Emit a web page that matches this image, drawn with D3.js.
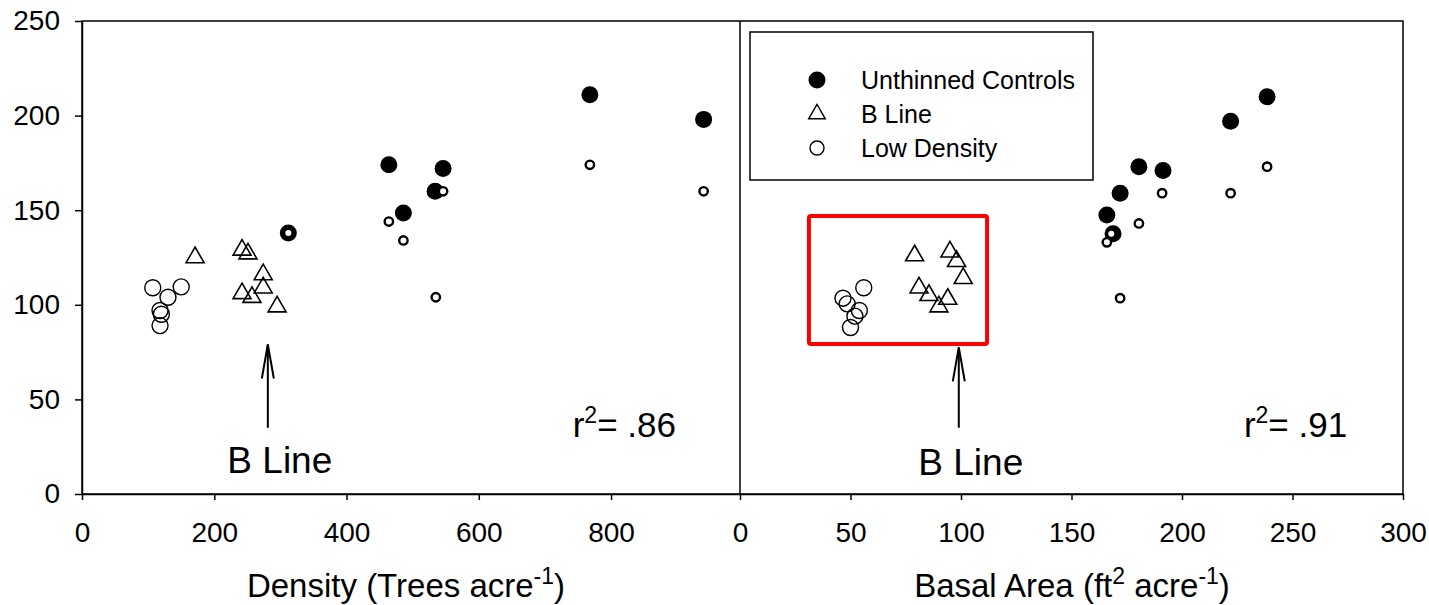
<!DOCTYPE html>
<html>
<head>
<meta charset="utf-8">
<script src="https://cdn.jsdelivr.net/npm/d3@7"></script>
<style>
  body { margin: 0; background: #fff; }
  text { font-family: "Liberation Sans", Arial, sans-serif; fill: #000; }
</style>
</head>
<body>
<div class="visualization-container"></div>
<script>
// left panel: density (trees/acre) vs y
const unthinnedDensity = [[312, 138], [464, 174], [546, 172], [534, 160], [486, 148.5], [768, 211], [940, 198]];
const smallOpenDensity = [[312, 138], [464, 144], [486, 134], [546, 160], [535, 104], [768, 174], [940, 160]];
const bLineDensity = [[171, 125], [242, 129], [251, 127], [274, 116], [274, 109], [242, 106], [257, 104], [295, 99]];
const lowDensityDensity = [[107, 109], [150, 109.5], [130, 104], [118, 97], [120, 95], [118, 89]];

// right panel: basal area (ft2/acre) vs y
const unthinnedBasal = [[180.5, 173], [191.4, 171], [172, 159], [166, 147.5], [168.8, 137.5], [222, 197], [238.5, 210]];
const smallOpenBasal = [[191, 159], [180.5, 143], [168, 137.5], [166, 133], [172, 103.5], [222, 159], [238.5, 173]];
const bLineBasal = [[79, 126], [95, 128], [98, 123], [101, 114], [81, 109], [85.5, 105], [94, 103], [90, 99]];
const lowDensityBasal = [[46.6, 103.5], [56, 109], [54, 97], [52, 94], [50, 88], [48.5, 100.5]];

const yTicks = [0, 50, 100, 150, 200, 250];
const densityTicks = [0, 200, 400, 600, 800];
const basalTicks = [0, 50, 100, 150, 200, 250, 300];
const legendLabels = ["Unthinned Controls", "B Line", "Low Density"];

const width = 1429, height = 605;

const svg = d3.select(".visualization-container").append("svg")
  .attr("width", width)
  .attr("height", height);

const y = d3.scaleLinear().domain([0, 250]).range([494, 21]);
const xL = d3.scaleLinear().domain([0, 995]).range([82, 740]);
const xR = d3.scaleLinear().domain([0, 300]).range([740, 1403]);

// frame
svg.append("rect")
  .attr("x", xL(0)).attr("y", y(250))
  .attr("width", xR(300) - xL(0)).attr("height", y(0) - y(250))
  .attr("fill", "none").attr("stroke", "#000").attr("stroke-width", 1.5);

svg.append("line")
  .attr("x1", xR(0)).attr("x2", xR(0))
  .attr("y1", y(250)).attr("y2", y(0))
  .attr("stroke", "#000").attr("stroke-width", 1.5);

function styleAxis(g) {
  g.selectAll("path, line").attr("stroke", "#000").attr("stroke-width", 1.5);
  g.selectAll("text").attr("font-size", 28).attr("fill", "#000")
    .attr("font-family", "Liberation Sans, Arial, sans-serif");
}

svg.append("g")
  .attr("transform", `translate(${xL(0)},0)`)
  .call(d3.axisLeft(y).tickValues(yTicks).tickSize(7).tickSizeOuter(0).tickPadding(15))
  .call(styleAxis);

svg.append("g")
  .attr("transform", `translate(0,${y(0)})`)
  .call(d3.axisBottom(xL).tickValues(densityTicks).tickSize(6).tickSizeOuter(0).tickPadding(22))
  .call(styleAxis);

svg.append("g")
  .attr("transform", `translate(0,${y(0)})`)
  .call(d3.axisBottom(xR).tickValues(basalTicks).tickSize(6).tickSizeOuter(0).tickPadding(22))
  .call(styleAxis);

// axis titles
const t1 = svg.append("text")
  .attr("x", 406).attr("y", 597)
  .attr("text-anchor", "middle")
  .attr("font-size", 33);
t1.append("tspan").text("Density (Trees acre");
t1.append("tspan").attr("dy", -13).attr("font-size", 23).text("-1");
t1.append("tspan").attr("dy", 13).text(")");

const t2 = svg.append("text")
  .attr("x", 1072).attr("y", 597)
  .attr("text-anchor", "middle")
  .attr("font-size", 33);
t2.append("tspan").text("Basal Area (ft");
t2.append("tspan").attr("dy", -13).attr("font-size", 23).text("2");
t2.append("tspan").attr("dy", 13).text(" acre");
t2.append("tspan").attr("dy", -13).attr("font-size", 23).text("-1");
t2.append("tspan").attr("dy", 13).text(")");

const tri = d3.symbol().type(d3.symbolTriangle);

function drawPanel(x, unthinned, smallOpen, bLine, lowDensity) {
  const g = svg.append("g");

  g.selectAll(".low").data(lowDensity).enter().append("circle")
    .attr("cx", d => x(d[0])).attr("cy", d => y(d[1]))
    .attr("r", 8)
    .attr("fill", "none").attr("stroke", "#000").attr("stroke-width", 1.4);

  g.selectAll(".bline").data(bLine).enter().append("path")
    .attr("d", tri.size(140)())
    .attr("transform", d => `translate(${x(d[0])},${y(d[1])})`)
    .attr("fill", "none").attr("stroke", "#000").attr("stroke-width", 1.6);

  g.selectAll(".unthinned").data(unthinned).enter().append("circle")
    .attr("cx", d => x(d[0])).attr("cy", d => y(d[1]))
    .attr("r", 8.5)
    .attr("fill", "#000");

  g.selectAll(".smallopen").data(smallOpen).enter().append("circle")
    .attr("cx", d => x(d[0])).attr("cy", d => y(d[1]))
    .attr("r", 4.2)
    .attr("fill", "#fff").attr("stroke", "#000").attr("stroke-width", 2.4);
}

drawPanel(xL, unthinnedDensity, smallOpenDensity, bLineDensity, lowDensityDensity);
drawPanel(xR, unthinnedBasal, smallOpenBasal, bLineBasal, lowDensityBasal);

// B Line arrows and labels
function bLineNote(x, xv, tip, tail, textY) {
  const cx = x(xv);
  svg.append("line")
    .attr("x1", cx).attr("x2", cx)
    .attr("y1", y(tip)).attr("y2", y(tail))
    .attr("stroke", "#000").attr("stroke-width", 2);
  svg.append("path")
    .attr("d", `M${cx - 6},${y(tip) + 34} L${cx},${y(tip)} L${cx + 6},${y(tip) + 34}`)
    .attr("fill", "none").attr("stroke", "#000").attr("stroke-width", 2);
  svg.append("text")
    .attr("x", cx + 12).attr("y", y(textY))
    .attr("text-anchor", "middle")
    .attr("font-size", 37)
    .text("B Line");
}

bLineNote(xL, 281, 79, 35, 11);
bLineNote(xR, 99, 77.5, 35, 10);

function rSquared(x, xv, label) {
  const t = svg.append("text")
    .attr("x", x(xv)).attr("y", y(30))
    .attr("font-size", 35);
  t.append("tspan").text("r");
  t.append("tspan").attr("dy", -14).attr("font-size", 23).text("2");
  t.append("tspan").attr("dy", 14).text("= " + label);
}

rSquared(xL, 742, ".86");
rSquared(xR, 228, ".91");

// red highlight box
svg.append("rect")
  .attr("x", xR(31.2)).attr("y", y(147))
  .attr("width", xR(111.8) - xR(31.2)).attr("height", y(79.3) - y(147))
  .attr("rx", 2)
  .attr("fill", "none").attr("stroke", "#ff0000").attr("stroke-width", 4);

// legend
const legend = svg.append("g")
  .attr("class", "legend")
  .attr("transform", "translate(750,32)");

legend.append("rect")
  .attr("width", 343).attr("height", 148)
  .attr("fill", "#fff").attr("stroke", "#000").attr("stroke-width", 1.5);

const items = legend.selectAll(".legend-item")
  .data(legendLabels)
  .enter().append("g")
  .attr("class", "legend-item")
  .attr("transform", (d, i) => `translate(67,${48 + i * 34})`);

items.filter((d, i) => i === 0).append("circle")
  .attr("r", 8.5).attr("fill", "#000");
items.filter((d, i) => i === 1).append("path")
  .attr("d", tri.size(120)())
  .attr("fill", "none").attr("stroke", "#000").attr("stroke-width", 1.4);
items.filter((d, i) => i === 2).append("circle")
  .attr("r", 7).attr("fill", "none").attr("stroke", "#000").attr("stroke-width", 1.4);

items.append("text")
  .attr("x", 44).attr("y", 9)
  .attr("font-size", 25)
  .text(d => d);
</script>
</body>
</html>
